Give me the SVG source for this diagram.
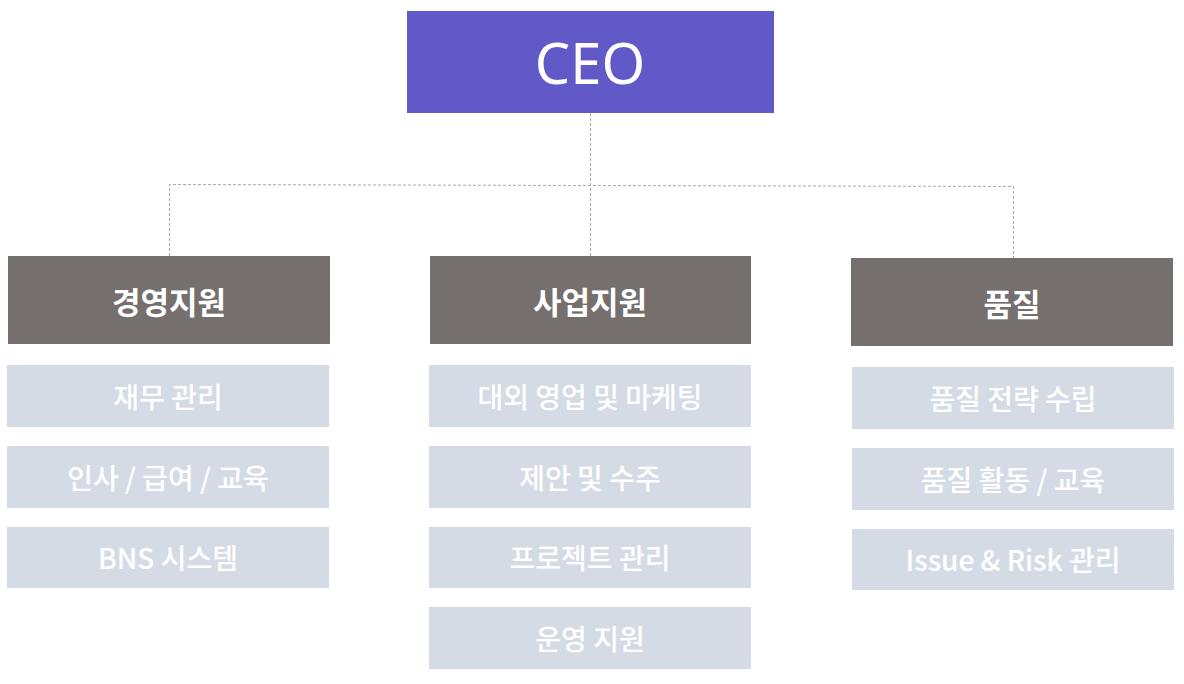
<svg xmlns="http://www.w3.org/2000/svg" width="1184" height="684" viewBox="0 0 1184 684">
<style>
.ceo{fill:#6259C9}
.hd{fill:#75706E}
.it{fill:#D5DBE5}
text{font-family:"Noto Sans CJK KR","Noto Sans",sans-serif;fill:#fff;text-anchor:middle;dominant-baseline:central}
.tc{font-size:56px;font-family:"Noto Sans","Noto Sans CJK KR",sans-serif}
.th{font-size:31px;font-weight:700}
.ti{font-size:28px;font-weight:500}
.ln{fill:none;stroke:#a8a8a8;stroke-width:1;stroke-dasharray:3 2}
</style>
<g id="connectors">
<path class="ln" d="M590.5 113 V256"/>
<path class="ln" d="M169.5 256 V184.5 L1013.5 186.5 V258"/>
</g>
<g id="ceo"><rect class="ceo" x="407" y="11" width="367" height="102"/><text class="tc" x="590" y="62">CEO</text></g>
<g id="h1"><rect class="hd" x="8" y="256" width="322" height="88"/><text class="th" x="169" y="300">경영지원</text></g>
<g id="h2"><rect class="hd" x="430" y="256" width="321" height="88"/><text class="th" x="590" y="300">사업지원</text></g>
<g id="h3"><rect class="hd" x="851" y="258" width="322" height="88"/><text class="th" x="1012" y="302">품질</text></g>
<g id="a1"><rect class="it" x="7" y="365" width="322" height="62"/><text class="ti" x="168" y="396">재무 관리</text></g>
<g id="a2"><rect class="it" x="7" y="446" width="322" height="62"/><text class="ti" x="168" y="477">인사 / 급여 / 교육</text></g>
<g id="a3"><rect class="it" x="7" y="527" width="322" height="61"/><text class="ti" x="168" y="557">BNS 시스템</text></g>
<g id="b1"><rect class="it" x="429" y="365" width="322" height="62"/><text class="ti" x="590" y="396">대외 영업 및 마케팅</text></g>
<g id="b2"><rect class="it" x="429" y="446" width="322" height="62"/><text class="ti" x="590" y="477">제안 및 수주</text></g>
<g id="b3"><rect class="it" x="429" y="527" width="322" height="61"/><text class="ti" x="590" y="557">프로젝트 관리</text></g>
<g id="b4"><rect class="it" x="429" y="607" width="322" height="62"/><text class="ti" x="590" y="638">운영 지원</text></g>
<g id="c1"><rect class="it" x="852" y="367" width="322" height="62"/><text class="ti" x="1013" y="398">품질 전략 수립</text></g>
<g id="c2"><rect class="it" x="852" y="448" width="322" height="62"/><text class="ti" x="1013" y="479">품질 활동 / 교육</text></g>
<g id="c3"><rect class="it" x="852" y="529" width="322" height="61"/><text class="ti" x="1013" y="559">Issue &amp; Risk 관리</text></g>
</svg>
